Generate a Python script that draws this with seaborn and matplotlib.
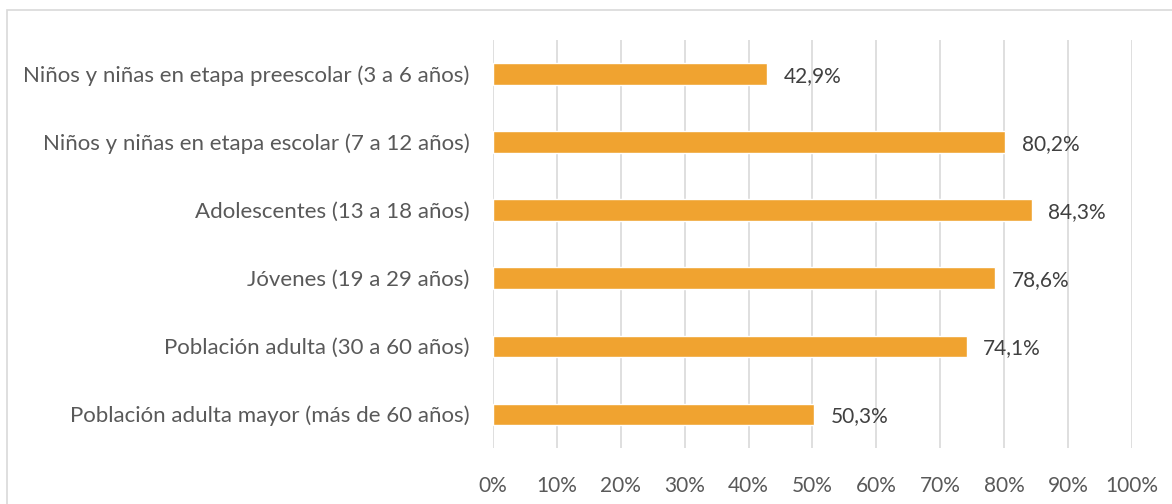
import matplotlib
matplotlib.use("Agg")
import matplotlib.pyplot as plt
import seaborn as sns
import pandas as pd
from matplotlib.patches import Rectangle
from matplotlib.ticker import FuncFormatter

categories = [
    "Niños y niñas en etapa preescolar (3 a 6 años)",
    "Niños y niñas en etapa escolar (7 a 12 años)",
    "Adolescentes (13 a 18 años)",
    "Jóvenes (19 a 29 años)",
    "Población adulta (30 a 60 años)",
    "Población adulta mayor (más de 60 años)",
]
values = [42.9, 80.2, 84.3, 78.6, 74.1, 50.3]

df = pd.DataFrame({"grupo": categories, "valor": values})

sns.set_style("white")
plt.rcParams["font.family"] = ["Lato", "DejaVu Sans"]
text_color = "#595959"

fig = plt.figure(figsize=(11.72, 5.04), dpi=100)
ax = fig.add_axes([0.4206, 0.111, 0.5453, 0.8096])

sns.barplot(data=df, x="valor", y="grupo", color="#F0A330", width=0.31,
            saturation=1, ax=ax, zorder=3)

ax.set_xlim(0, 100)
ax.set_ylim(5.5, -0.5)
ax.set_xticks(range(0, 101, 10))
ax.xaxis.set_major_formatter(FuncFormatter(lambda v, p: f"{int(v)}%"))
ax.grid(axis="x", color="#D9D9D9", linewidth=1.2, zorder=0)
ax.set_xlabel("")
ax.set_ylabel("")
for s in ax.spines.values():
    s.set_visible(False)
ax.tick_params(axis="x", length=0, labelsize=15, colors=text_color, pad=20)
ax.tick_params(axis="y", length=0, labelsize=16, colors=text_color, pad=17)

for i, v in enumerate(values):
    ax.text(v + 2.6, i + 0.03, f"{v:.1f}%".replace(".", ","), va="center",
            ha="left", fontsize=15, color="#404040")

fig.patches.append(Rectangle((7 / 1172, -0.1), 1.2, 1 - 10 / 504 + 0.1,
                             transform=fig.transFigure, fill=False,
                             edgecolor="#D9D9D9", linewidth=1.2))

fig.savefig("out.png", dpi=100)
plt.close(fig)
